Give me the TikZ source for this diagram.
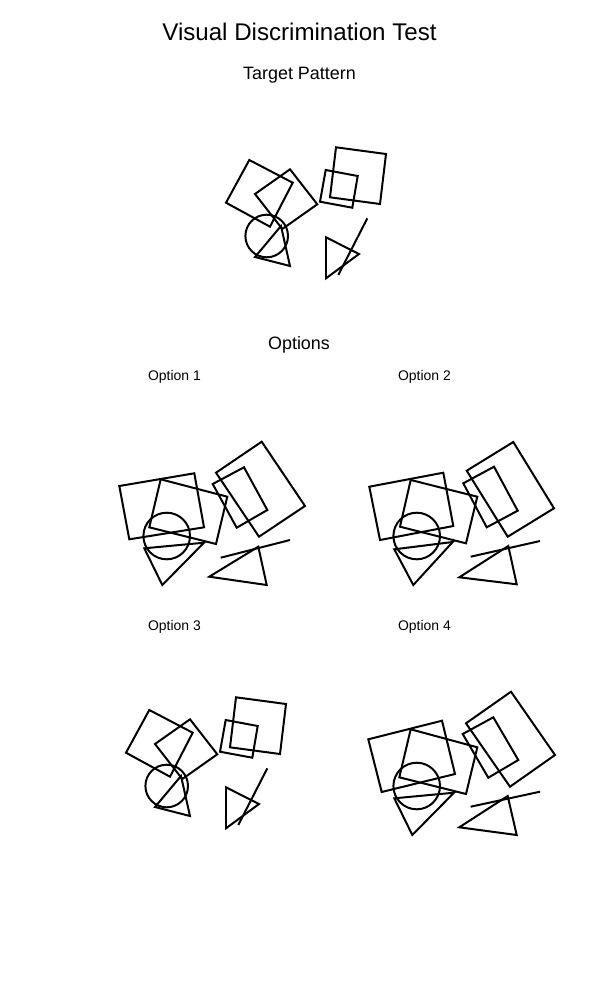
\documentclass[tikz,border=0pt]{standalone}
\usepackage{fontspec}
\setmainfont{Liberation Sans}
\tikzset{
  shp/.style={draw=black, line width=2pt, line join=miter},
  ttl/.style={anchor=base, inner sep=0pt, font=\fontsize{24.2}{28}\selectfont},
  hdr/.style={anchor=base, inner sep=0pt, font=\fontsize{18}{21}\selectfont},
  opt/.style={anchor=base, inner sep=0pt, font=\fontsize{14}{16}\selectfont},
}
\newcommand\targetpat{%
  \draw[shp] (249.3,160) -- (292.7,182.7) -- (270,226.7) -- (226,202.7) -- cycle;
  \draw[shp] (255,194) -- (290,169.3) -- (317.3,204.3) -- (282.3,229) -- cycle;
  \draw[shp] (266.7,236) circle[radius=21.3];
  \draw[shp] (255,257) -- (290,266) -- (281,226) -- cycle;
  \draw[shp] (336,147.3) -- (386,154) -- (380,204) -- (330,197.3) -- cycle;
  \draw[shp] (325.7,170) -- (357.7,176) -- (352.3,207.7) -- (320,201.7) -- cycle;
  \draw[shp] (326,237.3) -- (359,254) -- (326,278.3) -- cycle;
  \draw[shp] (367.3,218.3) -- (338.3,275);
}
\begin{document}
\begin{tikzpicture}[x=1bp,y=-1bp]
\useasboundingbox[fill=white] (0,0) rectangle (600,1000);
% titles
\node[ttl] (title) at (299.5,40) {Visual Discrimination Test};
\node[hdr] (target) at (299.5,79.3) {Target Pattern};
\node[hdr] (options) at (299,349.3) {Options};
\node[opt] (o1) at (174.5,380) {Option 1};
\node[opt] (o2) at (424.5,380) {Option 2};
\node[opt] (o3) at (174.5,630) {Option 3};
\node[opt] (o4) at (424.5,630) {Option 4};
% target
\targetpat
% option 3: identical copy of target
\begin{scope}[shift={(-100,550)}]
\targetpat
\end{scope}
% option 1
\draw[shp] (119.3,486) -- (194.3,473.3) -- (204,527.3) -- (129.3,539.3) -- cycle;
\draw[shp] (160.7,479.3) -- (227.3,496.7) -- (216,544) -- (149.3,527.3) -- cycle;
\draw[shp] (166.7,536) circle[radius=23.3];
\draw[shp] (144.3,548.3) -- (204,542.7) -- (162.3,585) -- cycle;
\draw[shp] (216,472.7) -- (261.7,441.7) -- (305,506) -- (259,536.7) -- cycle;
\draw[shp] (212.7,484) -- (244,467.3) -- (267.3,510) -- (236.7,527.7) -- cycle;
\draw[shp] (209.3,576.7) -- (258.3,546.7) -- (266.7,585) -- cycle;
\draw[shp] (220.7,557.7) -- (290,540);
% option 2
\draw[shp] (369.3,486.7) -- (443.3,472.7) -- (453.3,526) -- (380,540) -- cycle;
\draw[shp] (410.7,480) -- (477.3,496.7) -- (466,543.3) -- (400,526.7) -- cycle;
\draw[shp] (416.7,536) circle[radius=23.3];
\draw[shp] (394.3,549.3) -- (452.7,542) -- (413.3,585) -- cycle;
\draw[shp] (466.7,470.7) -- (513.3,442) -- (554,508.3) -- (507.7,536.7) -- cycle;
\draw[shp] (463.3,483.3) -- (494,466.7) -- (517.7,510.7) -- (486.7,527.3) -- cycle;
\draw[shp] (459.3,577.3) -- (508.3,546) -- (516.7,584.3) -- cycle;
\draw[shp] (470.7,556.7) -- (540,541);
% option 4
\draw[shp] (368.3,739.3) -- (442,720.7) -- (455,774) -- (381.7,792) -- cycle;
\draw[shp] (410.7,729.3) -- (477.3,747.3) -- (466,794) -- (399.3,777.3) -- cycle;
\draw[shp] (416.7,786) circle[radius=23.3];
\draw[shp] (394.3,798.3) -- (454,792.7) -- (412.3,835) -- cycle;
\draw[shp] (466,723.3) -- (511,691.7) -- (555,755) -- (510,786.7) -- cycle;
\draw[shp] (462.7,734) -- (493.3,717.3) -- (518.3,760) -- (488.3,777.7) -- cycle;
\draw[shp] (459.3,827.3) -- (507.7,796) -- (516.7,835) -- cycle;
\draw[shp] (470.7,806.7) -- (540,791.7);
\end{tikzpicture}
\end{document}
